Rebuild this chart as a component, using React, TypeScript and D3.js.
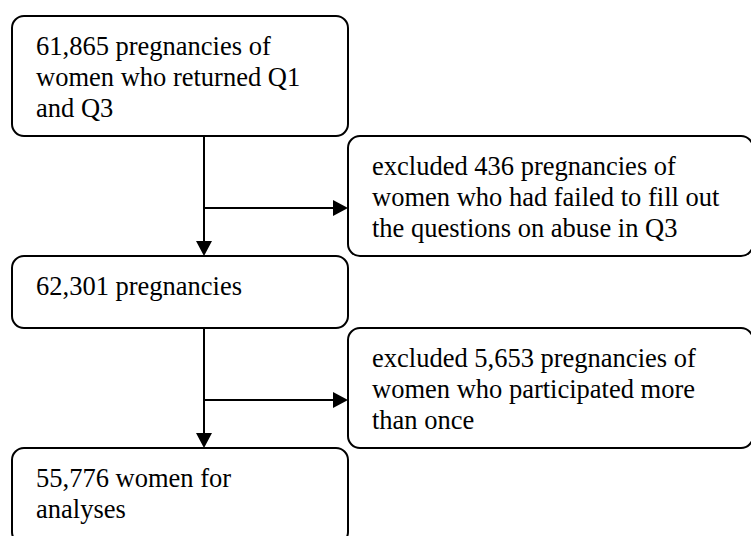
import React from "react";
import * as d3 from "d3";

// flow steps (left column) and exclusions (right column)
const mainSteps = [
  ["61,865 pregnancies of", "women who returned Q1", "and Q3"],
  ["62,301 pregnancies"],
  ["55,776 women for", "analyses"],
];

const exclusions = [
  ["excluded 436 pregnancies of", "women who had failed to fill out", "the questions on abuse in Q3"],
  ["excluded 5,653 pregnancies of", "women who participated more", "than once"],
];

// layout
const W = 751, H = 536;
const top0 = 16;
const rowHeights = [120, 120, 72, 120, 96];
const leftCol = [12, 348];
const rightCol = [348, 753];
const trunkX = 204;
const branchOffset = 72;
const fontSize = 26.5;
const lineGap = 31;
const padX = 24;
const firstBase = 39;
const serif = '"Liberation Serif", "Times New Roman", Times, "DejaVu Serif", serif';

const App = () => {
  const tops = [top0, ...d3.cumsum(rowHeights).map(v => v + top0)];

  // interleave main / exclusion boxes
  const boxes: any[] = [];
  mainSteps.forEach((lines, i) => {
    boxes.push({ lines, row: i * 2, col: leftCol });
    if (i < exclusions.length) boxes.push({ lines: exclusions[i], row: i * 2 + 1, col: rightCol });
  });

  const line = d3.line();
  const arrowLen = 15, arrowHalf = 8;

  const arrows: any[] = [];
  exclusions.forEach((_, i) => {
    const r = i * 2 + 1;
    const yStart = tops[r];          // bottom of main box above
    const yEnd = tops[r + 1];        // top of next main box
    const yBranch = tops[r] + branchOffset;
    arrows.push({
      shaft: line([[trunkX, yStart], [trunkX, yEnd - arrowLen]]),
      head: line([[trunkX - arrowHalf, yEnd - arrowLen], [trunkX + arrowHalf, yEnd - arrowLen], [trunkX, yEnd]]) + "Z",
    });
    arrows.push({
      shaft: line([[trunkX, yBranch], [rightCol[0] - arrowLen, yBranch]]),
      head: line([[rightCol[0] - arrowLen, yBranch - arrowHalf], [rightCol[0] - arrowLen, yBranch + arrowHalf], [rightCol[0], yBranch]]) + "Z",
    });
  });

  return (
    <svg width={W} height={H} style={{ position: "absolute", left: 0, top: 0, background: "#fff" }}>
      {boxes.map((b, i) => (
        <g key={i}>
          <rect x={b.col[0]} y={tops[b.row]} width={b.col[1] - b.col[0]} height={rowHeights[b.row]}
            rx={12} ry={12} fill="#fff" stroke="#000" strokeWidth={2} />
          {b.lines.map((t: string, j: number) => (
            <text key={j} x={b.col[0] + padX} y={tops[b.row] + firstBase + j * lineGap} fill="#000"
              style={{ fontFamily: serif, fontSize: fontSize + "px" }}>{t}</text>
          ))}
        </g>
      ))}
      {arrows.map((a, i) => (
        <g key={i}>
          <path d={a.shaft} stroke="#000" strokeWidth={2} fill="none" />
          <path d={a.head} fill="#000" />
        </g>
      ))}
    </svg>
  );
};

export default App;
